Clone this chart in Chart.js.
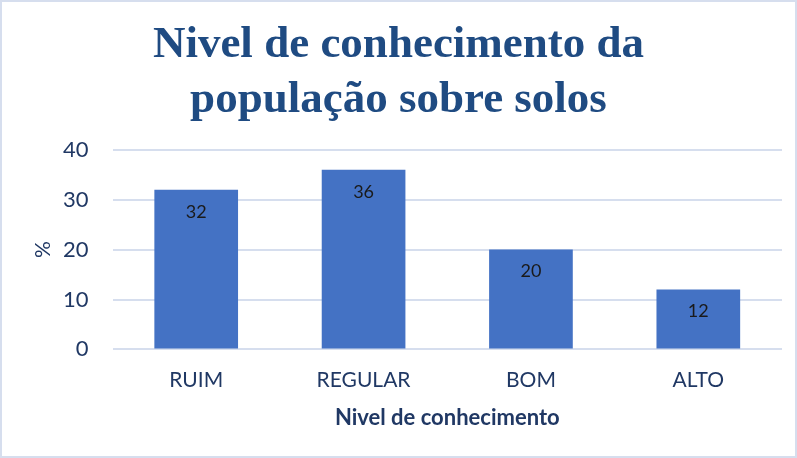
<!DOCTYPE html>
<html>
<head>
<meta charset="utf-8">
<script src="https://cdn.jsdelivr.net/npm/chart.js@4/dist/chart.umd.min.js"></script>
<style>
  html, body { margin: 0; padding: 0; background: #fff; }
  #wrap { width: 797px; height: 458px; box-sizing: border-box; border: 2px solid #D6DEEE; background: #fff; }
  #wrap canvas { display: block; }
</style>
</head>
<body>
<div id="wrap"><canvas id="chart" width="793" height="454"></canvas></div>
<script>
const categories = ['RUIM', 'REGULAR', 'BOM', 'ALTO'];
const values = [32, 36, 20, 12];
const titleLines = ['Nivel de conhecimento da', 'população sobre solos'];
const xTitle = 'Nivel de conhecimento';
const yTitle = '%';

const textColor = '#203864';
const sans = 'Lato, "Open Sans", sans-serif';

// labels inside the top of each bar
const barLabels = {
    id: 'barLabels',
    afterDatasetsDraw(chart) {
        const ctx = chart.ctx;
        const meta = chart.getDatasetMeta(0);
        ctx.save();
        ctx.font = '18px ' + sans;
        ctx.fillStyle = '#1a1a1a';
        ctx.textAlign = 'center';
        ctx.textBaseline = 'middle';
        meta.data.forEach((bar, i) => {
            ctx.fillText(values[i], bar.x, bar.y + 22);
        });
        ctx.restore();
    }
};

const ctx = document.querySelector('#chart');
new Chart(ctx, {
    type: 'bar',
    data: {
        labels: categories,
        datasets: [{
            data: values,
            backgroundColor: '#4472C4',
            barPercentage: 0.5,
            categoryPercentage: 1
        }]
    },
    options: {
        responsive: false,
        animation: false,
        layout: { padding: { left: 13, right: 13, top: 16, bottom: 21 } },
        plugins: {
            legend: { display: false },
            tooltip: { enabled: false },
            title: {
                display: true,
                text: titleLines,
                color: '#1F4B82',
                font: { family: '"Liberation Serif", "Times New Roman", serif', size: 45, weight: 'bold', lineHeight: 1.22 },
                padding: { top: 0, bottom: 22 }
            }
        },
        scales: {
            x: {
                grid: { display: false },
                border: { display: false },
                ticks: { color: textColor, font: { family: sans, size: 21 }, padding: 10 },
                title: { display: true, text: xTitle, color: textColor, font: { family: sans, size: 22, weight: 'bold' }, padding: { top: 2 } }
            },
            y: {
                min: 0,
                max: 40,
                ticks: { stepSize: 10, color: textColor, font: { family: sans, size: 22 }, padding: 24 },
                grid: { color: '#D6DEEE', lineWidth: 2, drawTicks: false },
                border: { display: false },
                title: { display: true, text: yTitle, color: textColor, font: { family: sans, size: 21, lineHeight: 1 }, padding: { top: 18, bottom: -15 } }
            }
        }
    },
    plugins: [barLabels]
});
</script>
</body>
</html>
